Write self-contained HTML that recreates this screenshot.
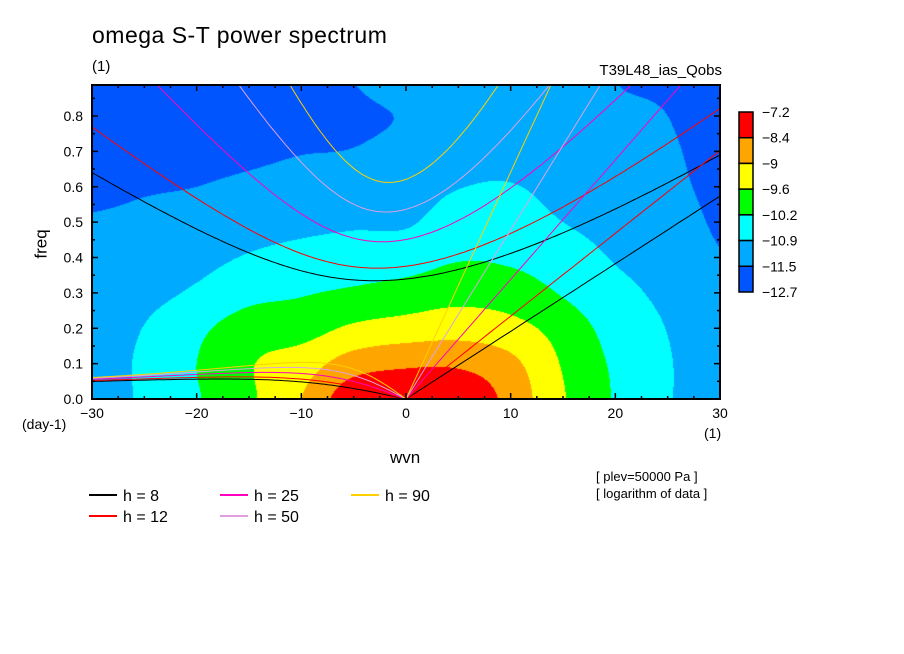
<!DOCTYPE html>
<html><head><meta charset="utf-8">
<style>
body{margin:0;background:#fff;}
#wrap{position:relative;width:904px;height:654px;overflow:hidden;background:#fff;font-family:"Liberation Sans",sans-serif;}
.t{position:absolute;white-space:nowrap;color:#000;}
</style></head>
<body>
<div id="wrap">
<canvas id="cv" width="904" height="654" style="position:absolute;left:0;top:0"></canvas>
<svg id="sv" width="904" height="654" style="position:absolute;left:0;top:0"></svg>
<div class="t" style="left:92px;top:22px;font-size:23px;letter-spacing:0.5px">omega S-T power spectrum</div>
<div class="t" style="left:92px;top:58px;font-size:15px">(1)</div>
<div class="t" style="left:560px;top:62px;width:162px;text-align:right;font-size:15px">T39L48_ias_Qobs</div>
<div class="t" style="left:22px;top:416px;font-size:14px">(day-1)</div>
<div class="t" style="left:704px;top:425px;font-size:14px">(1)</div>
<div class="t" style="left:390px;top:448px;font-size:17px">wvn</div>
<div class="t" style="left:27px;top:234px;font-size:17px;transform:rotate(-90deg);transform-origin:center">freq</div>
<div class="t" style="left:596px;top:469px;font-size:13px">[ plev=50000 Pa ]</div>
<div class="t" style="left:596px;top:486px;font-size:13px">[ logarithm of data ]</div>
</div>
<script>
// ---- data ----
const wvnGrid = [-30,-25,-20,-15,-10,-5,0,5,10,15,20,25,30];
const freqGrid = [0,0.1,0.2,0.3,0.4,0.5,0.6,0.7,0.8,0.9];
// log power values: rows = wvnGrid, columns = freqGrid
const powerCols = [
 [-11.2,-11.2,-11.25,-11.3,-11.35,-11.45,-11.65,-11.8,-11.9,-12.0],
 [-10.8,-10.78,-10.88,-11.1,-11.25,-11.38,-11.55,-11.7,-11.8,-11.9],
 [-10.25,-10.2,-10.35,-10.8,-11.1,-11.3,-11.5,-11.65,-11.75,-11.8],
 [-9.7,-9.65,-9.9,-10.4,-10.85,-11.15,-11.4,-11.6,-11.7,-11.75],
 [-9.0,-9.3,-9.85,-10.25,-10.7,-11.05,-11.3,-11.52,-11.65,-11.7],
 [-8.0,-8.7,-9.5,-10.1,-10.6,-10.98,-11.25,-11.48,-11.62,-11.5],
 [-7.9,-8.5,-9.35,-9.95,-10.5,-10.97,-11.15,-11.3,-11.45,-11.2],
 [-7.9,-8.5,-9.25,-9.8,-10.25,-10.6,-10.92,-11.1,-11.2,-11.2],
 [-8.6,-8.85,-9.4,-9.9,-10.3,-10.6,-10.87,-11.1,-11.25,-11.3],
 [-9.55,-9.65,-9.85,-10.25,-10.55,-10.9,-11.1,-11.25,-11.35,-11.4],
 [-10.25,-10.3,-10.45,-10.7,-10.95,-11.15,-11.3,-11.4,-11.45,-11.5],
 [-10.85,-10.85,-10.92,-11.05,-11.18,-11.3,-11.4,-11.45,-11.5,-11.55],
 [-11.2,-11.25,-11.3,-11.4,-11.48,-11.55,-11.6,-11.65,-11.7,-11.7]
];
const levelLabels = ["-7.2","-8.4","-9","-9.6","-10.2","-10.9","-11.5","-12.7"];
const levels = [-8.4,-9,-9.6,-10.2,-10.9,-11.5];
const levelColors = ["#ff0000","#ffa500","#ffff00","#00ff00","#00ffff","#00aaff","#0055ff"];
const depths = [8,12,25,50,90];
const depthColors = ["#000000","#ff0000","#ff00c0","#e0a0e0","#ffd000"];
const xTicks = [-30,-20,-10,0,10,20,30];
const yTicks = [0,0.1,0.2,0.3,0.4,0.5,0.6,0.7,0.8];

// ---- axes ----
const X0=92,X1=720,Y0=399,Y1=85;
const xMin=-30,xMax=30,yMin=0,yMax=(Y0-Y1)/353.75;
const xs=v=>X0+(v-xMin)/(xMax-xMin)*(X1-X0);
const ys=v=>Y0-(v-yMin)/(yMax-yMin)*(Y0-Y1);
const xinv=p=>xMin+(p-X0)/(X1-X0)*(xMax-xMin);
const yinv=p=>yMin+(Y0-p)/(Y0-Y1)*(yMax-yMin);

// ---- contour field (bicubic) ----
function cr(p0,p1,p2,p3,t){return 0.5*(2*p1+(-p0+p2)*t+(2*p0-5*p1+4*p2-p3)*t*t+(-p0+3*p1-3*p2+p3)*t*t*t);}
function g(i,j){i=Math.max(0,Math.min(wvnGrid.length-1,i));j=Math.max(0,Math.min(freqGrid.length-1,j));return powerCols[i][j];}
function field(w,f){
 const fi=(w-wvnGrid[0])/(wvnGrid[1]-wvnGrid[0]);const fj=(f-freqGrid[0])/(freqGrid[1]-freqGrid[0]);
 const i=Math.min(wvnGrid.length-2,Math.floor(fi)),j=Math.min(freqGrid.length-2,Math.floor(fj));
 const tx=fi-i,ty=fj-j;const r=[];
 for(let a=-1;a<=2;a++){r.push(cr(g(i+a,j-1),g(i+a,j),g(i+a,j+1),g(i+a,j+2),ty));}
 return cr(r[0],r[1],r[2],r[3],tx);
}
const cv=document.getElementById('cv');const ctx=cv.getContext('2d');
const img=ctx.createImageData(X1-X0,Y0-Y1);
const rgb=levelColors.map(c=>[parseInt(c.substr(1,2),16),parseInt(c.substr(3,2),16),parseInt(c.substr(5,2),16)]);
for(let py=0;py<Y0-Y1;py++){for(let px=0;px<X1-X0;px++){
 const v=field(xinv(X0+px+0.5),yinv(Y1+py+0.5));
 let k=0;while(k<levels.length&&v<levels[k])k++;
 const c=rgb[k];const o=(py*(X1-X0)+px)*4;img.data[o]=c[0];img.data[o+1]=c[1];img.data[o+2]=c[2];img.data[o+3]=255;}}
ctx.putImageData(img,X0,Y1);

// ---- dispersion curves ----
const NS='http://www.w3.org/2000/svg';const sv=document.getElementById('sv');
function mk(t,at){const e=document.createElementNS(NS,t);for(const k in at)e.setAttribute(k,at[k]);return e;}
const defs=mk('defs',{});const cp=mk('clipPath',{id:'clip'});cp.appendChild(mk('rect',{x:X0,y:Y1,width:X1-X0,height:Y0-Y1}));defs.appendChild(cp);sv.appendChild(defs);
const curves=mk('g',{'clip-path':'url(#clip)'});


sv.appendChild(curves);
const A=6.371e6,BETA=2*7.292e-5/A,CPD=86400/(2*Math.PI);
function igRoot(k){let w=Math.sqrt(k*k+3)+1;for(let n=0;n<60;n++){const f=w*w*w-(k*k+3)*w-k,d=3*w*w-(k*k+3);w-=f/d;}return w;}
depths.forEach((h,di)=>{
 const c=Math.sqrt(9.81*h),T=Math.sqrt(BETA*c),L=Math.sqrt(c/BETA);
 const ig=[],kel=[],ros=[];
 for(let s=-30;s<=30.001;s+=0.25){const k=s/A;const w=igRoot(k*L)*T*CPD;ig.push(xs(s).toFixed(1)+','+ys(w).toFixed(1));}
 for(let s=0;s<=30.001;s+=1){kel.push(xs(s).toFixed(1)+','+ys(s/A*c*CPD).toFixed(1));}
 for(let s=-30;s<=0.001;s+=0.25){const k=s/A;const w=-BETA*k/(k*k+3*BETA/c)*CPD;ros.push(xs(s).toFixed(1)+','+ys(w).toFixed(1));}
 [['ig',ig],['kelvin',kel],['rossby',ros]].forEach(([nm,pts])=>{
  const pl=mk('polyline',{points:pts.join(' '),fill:'none',stroke:depthColors[di],'stroke-width':1});
  
  
  curves.appendChild(pl);});
});

// ---- frame and ticks ----
const fr=mk('rect',{x:X0,y:Y1,width:X1-X0,height:Y0-Y1,fill:'none',stroke:'#000','stroke-width':2});


sv.appendChild(fr);
const tk=mk('g',{stroke:'#000','stroke-width':1.5});sv.appendChild(tk);
for(let v=-30;v<=30;v+=2.5){const len=(v%10===0)?6:3;const x=xs(v);
 tk.appendChild(mk('line',{x1:x,y1:Y0,x2:x,y2:Y0-len}));tk.appendChild(mk('line',{x1:x,y1:Y1,x2:x,y2:Y1+len}));}
for(let v=0;v<=0.88;v+=0.05){const len=(Math.round(v*100)%10===0)?6:3;const y=ys(v);
 tk.appendChild(mk('line',{x1:X0,y1:y,x2:X0+len,y2:y}));tk.appendChild(mk('line',{x1:X1,y1:y,x2:X1-len,y2:y}));}
xTicks.forEach(v=>{const t=mk('text',{x:xs(v),y:418,'text-anchor':'middle','font-size':14,'font-family':'Liberation Sans, sans-serif'});t.textContent=(v<0?'\u2212'+(-v):String(v));
 
 
 sv.appendChild(t);});
yTicks.forEach(v=>{const t=mk('text',{x:83,y:ys(v)+5,'text-anchor':'end','font-size':14,'font-family':'Liberation Sans, sans-serif'});t.textContent=v.toFixed(1);
 
 
 sv.appendChild(t);});

// ---- colorbar ----
const CBX=739,CBY=112,CBH=180,CBW=14;const bh=CBH/levelColors.length;
levelColors.forEach((c,i)=>{const r=mk('rect',{x:CBX,y:CBY+i*bh,width:CBW,height:bh,fill:c,stroke:'#000','stroke-width':1.5});
 
 
 sv.appendChild(r);});
levelLabels.forEach((l,i)=>{const t=mk('text',{x:762,y:CBY+i*bh+5,'font-size':14,'font-family':'Liberation Sans, sans-serif'});t.textContent=l.replace('-','\u2212');
 
 
 sv.appendChild(t);});

// ---- legend ----
const legX=[89,220,351],legY=[495,516];
// column,row per depth index: h8 c0r0, h12 c0r1, h25 c1r0, h50 c1r1, h90 c2r0
const pos=[[0,0],[0,1],[1,0],[1,1],[2,0]];
depths.forEach((h,i)=>{const [cI,rI]=pos[i];const x=legX[cI],y=legY[rI];
 const g2=mk('g',{});
 
 
 g2.appendChild(mk('line',{x1:x,y1:y,x2:x+28,y2:y,stroke:depthColors[i],'stroke-width':2}));
 const t=mk('text',{x:x+34,y:y+6,'font-size':16,'font-family':'Liberation Sans, sans-serif'});t.setAttribute('xml:space','preserve');t.textContent='h = '+(h<10?' '+h:h);
 g2.appendChild(t);sv.appendChild(g2);});
</script>
</body></html>
